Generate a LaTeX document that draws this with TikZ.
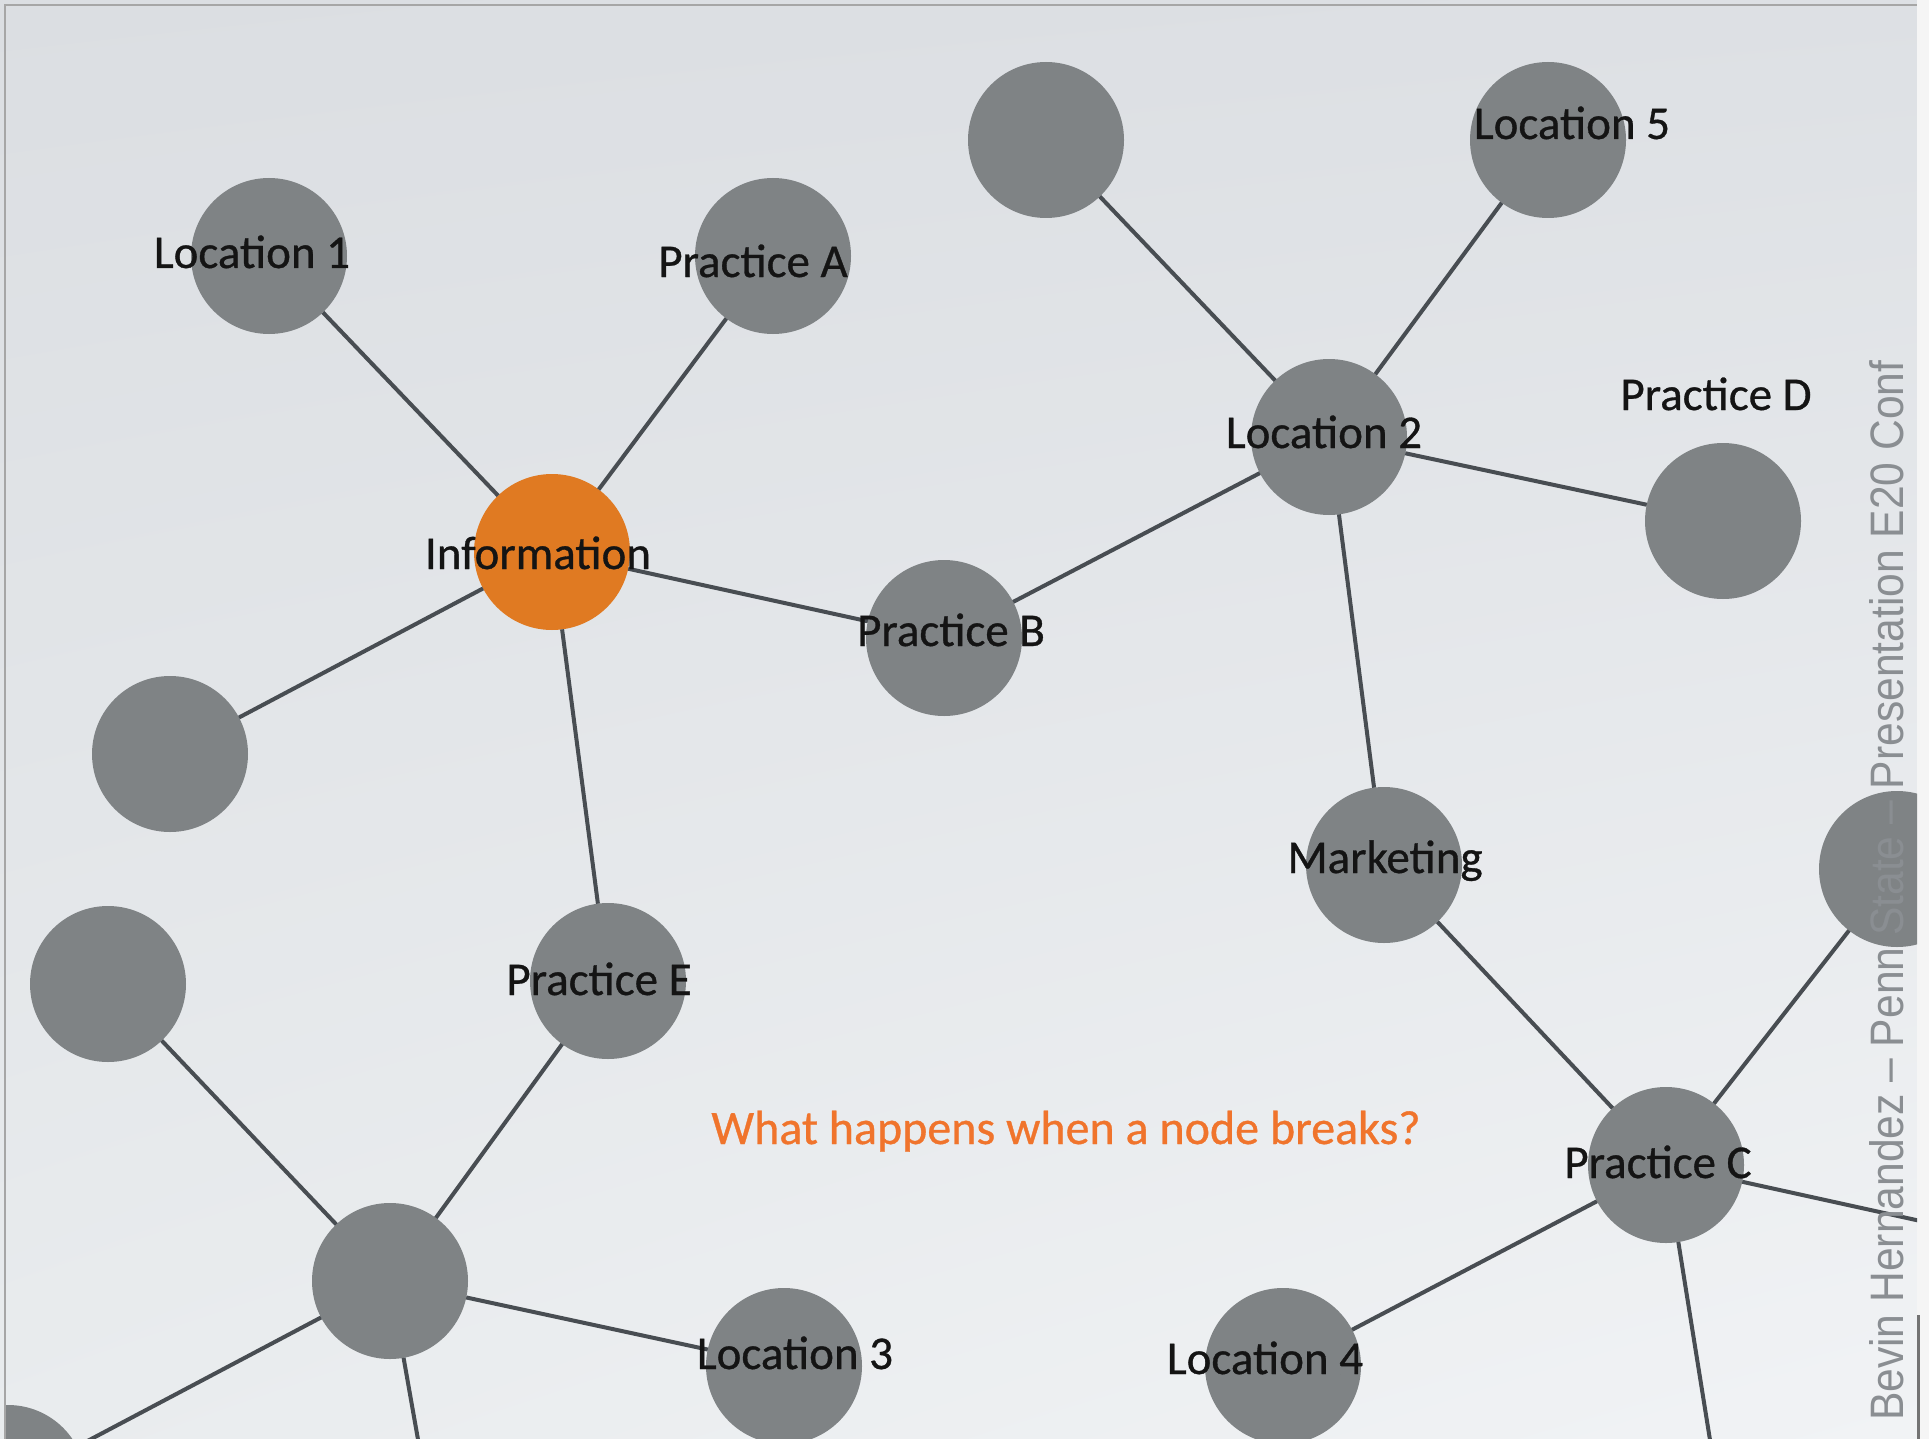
\documentclass[tikz,border=0pt]{standalone}
\usepackage{fontspec}
\setmainfont{Carlito}
\newfontfamily\lblfont{Carlito}[FakeBold=0.7]
\newfontfamily\footfont{Liberation Sans}
\usepackage{graphicx}
\usetikzlibrary{shadings}
\definecolor{nodegray}{RGB}{127,131,133}
\definecolor{infoorange}{RGB}{224,122,34}
\definecolor{edgecol}{RGB}{72,77,82}
\definecolor{qorange}{RGB}{240,116,44}
\definecolor{footgray}{RGB}{138,142,146}
\definecolor{bgUL}{RGB}{219,222,226}
\definecolor{bgUR}{RGB}{221,224,228}
\definecolor{bgLL}{RGB}{233,236,238}
\definecolor{bgLR}{RGB}{241,243,245}
\tikzset{
  netnode/.style={circle, fill=nodegray, minimum size=156pt, inner sep=0pt, outer sep=0pt},
  hubnode/.style={netnode, fill=infoorange},
  lbl/.style={font=\lblfont\fontsize{47}{56}\selectfont, text=black!92, inner sep=0pt, anchor=base},
  link/.style={draw=edgecol, line width=4pt}
}
\begin{document}
\begin{tikzpicture}[x=1pt,y=-1pt]
\useasboundingbox (0,0) rectangle (1929,1439);
\shade[upper left=bgUL, upper right=bgUR, lower left=bgLL, lower right=bgLR] (0,0) rectangle (1929,1439);
\fill[black!4] (1917,0) rectangle (1929,1439);
\draw[draw=black!35, line width=1.5pt] (5,1439) -- (5,5) -- (1917,5);
\draw[draw=black!55, line width=3pt] (1918.5,1315) -- (1918.5,1439);

\begin{scope}
\clip (6,6) rectangle (1917,1439);
% nodes
\node[netnode] (loc1) at (269,256) {};
\node[netnode] (pracA) at (773,256) {};
\node[hubnode] (info) at (552,552) {};
\node[netnode] (emptyL) at (170,754) {};
\node[netnode] (pracB) at (944,638) {};
\node[netnode] (pracE) at (608,981) {};
\node[netnode] (emptyLL) at (108,984) {};
\node[netnode] (hub) at (390,1281) {};
\node[netnode] (loc3) at (784,1366) {};
\node[netnode] (cornerBL) at (8,1483) {};
\node[netnode] (topE) at (1046,140) {};
\node[netnode] (loc5) at (1548,140) {};
\node[netnode] (loc2) at (1329,437) {};
\node[netnode] (pracD) at (1723,521) {};
\node[netnode] (mkt) at (1384,865) {};
\node[netnode] (pracC) at (1666,1165) {};
\node[netnode] (rightE) at (1897,869) {};
\node[netnode] (loc4) at (1283,1366) {};
\coordinate (offR) at (2066,1253);
\coordinate (offBC) at (1730,1565);
\coordinate (offBH) at (443,1581);
% connectors
\draw[link] (loc1) -- (info);
\draw[link] (pracA) -- (info);
\draw[link] (info) -- (emptyL);
\draw[link] (info) -- (pracB);
\draw[link] (info) -- (pracE);
\draw[link] (pracB) -- (loc2);
\draw[link] (loc2) -- (topE);
\draw[link] (loc2) -- (loc5);
\draw[link] (loc2) -- (pracD);
\draw[link] (loc2) -- (mkt);
\draw[link] (mkt) -- (pracC);
\draw[link] (pracC) -- (rightE);
\draw[link] (pracC) -- (offR);
\draw[link] (pracC) -- (loc4);
\draw[link] (pracC) -- (offBC);
\draw[link] (pracE) -- (hub);
\draw[link] (emptyLL) -- (hub);
\draw[link] (hub) -- (loc3);
\draw[link] (hub) -- (cornerBL);
\draw[link] (hub) -- (offBH);
% labels
\node[lbl] (tLoc1) at (252,268) {Location 1};
\node[lbl] (tPracA) at (753,277) {Practice A};
\node[lbl] (tInfo) at (538,569) {Information};
\node[lbl] (tPracB) at (951,646) {Practice B};
\node[lbl] (tLoc2) at (1324,448) {Location 2};
\node[lbl] (tLoc5) at (1572,139) {Location 5};
\node[lbl] (tPracD) at (1716,410) {Practice D};
\node[lbl] (tMkt) at (1385,873) {Marketing};
\node[lbl] (tPracC) at (1658,1178) {Practice C};
\node[lbl] (tPracE) at (599,995) {Practice E};
\node[lbl] (tLoc3) at (795,1369) {Location 3};
\node[lbl] (tLoc4) at (1265,1374) {Location 4};
\node[lbl, text=qorange, font=\lblfont\fontsize{48}{56}\selectfont] (question) at (1066,1144) {What happens when a node breaks?};
\node[rotate=90, anchor=base west, inner sep=0pt, text=footgray] (footer) at (1903,1421)
  {\resizebox{1060pt}{34pt}{\footfont Bevin Hernandez – Penn State – Presentation E20 Conf}};
\end{scope}
\end{tikzpicture}
\end{document}
